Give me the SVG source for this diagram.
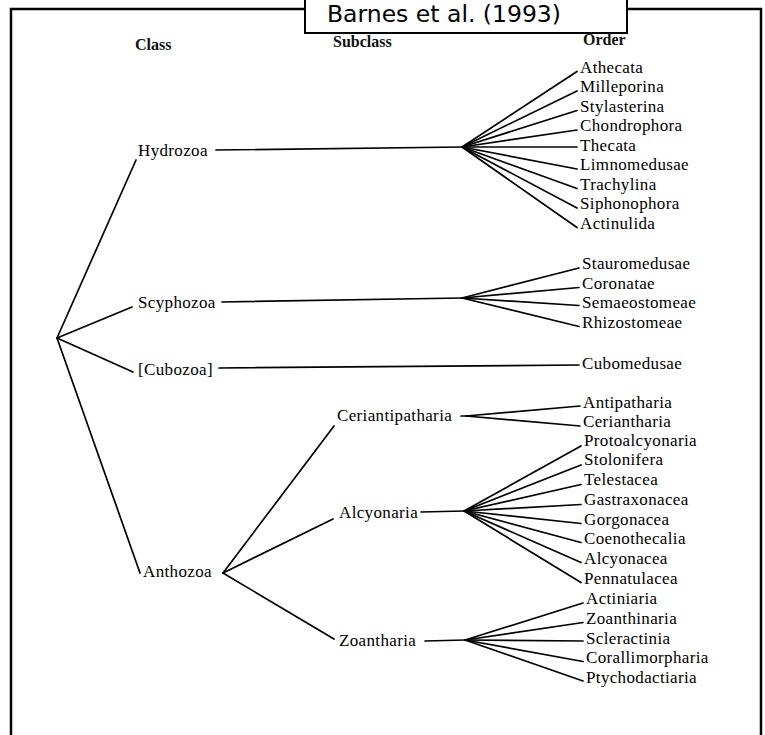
<svg xmlns="http://www.w3.org/2000/svg" width="765" height="735" viewBox="0 0 765 735">
<style>
.t{font-family:"Liberation Serif","Times New Roman",serif;font-size:17px;letter-spacing:0.35px;fill:#000}
.h{font-family:"Liberation Serif","Times New Roman",serif;font-size:16px;font-weight:bold;fill:#111}
.c line{stroke:#000;stroke-width:1.7;stroke-linecap:round}
</style>
<rect x="0" y="0" width="765" height="735" fill="#fff"/>
<rect id="frame" x="11" y="9" width="750" height="745" fill="none" stroke="#000" stroke-width="2.5"/>
<g id="title">
<rect x="305" y="-10" width="322" height="43" fill="#fff" stroke="#000" stroke-width="2"/>
<text x="327" y="22" style="font-family:'DejaVu Sans',Verdana,sans-serif;font-size:23.5px;fill:#000">Barnes et al. (1993)</text>
</g>
<g id="headers">
<text class="h" x="135" y="50">Class</text>
<text class="h" x="333" y="47">Subclass</text>
<text class="h" x="583" y="45">Order</text>
</g>
<g id="connectors" class="c">
<line x1="57" y1="338" x2="136" y2="160"/>
<line x1="57" y1="338" x2="132" y2="307"/>
<line x1="57" y1="338" x2="133" y2="372"/>
<line x1="57" y1="338" x2="140" y2="573"/>
<line x1="216" y1="150" x2="462" y2="147"/>
<line x1="462" y1="147" x2="577" y2="71.5"/>
<line x1="462" y1="147" x2="577" y2="91"/>
<line x1="462" y1="147" x2="577" y2="110.5"/>
<line x1="462" y1="147" x2="577" y2="130"/>
<line x1="462" y1="147" x2="577" y2="147"/>
<line x1="462" y1="147" x2="577" y2="169"/>
<line x1="462" y1="147" x2="577" y2="188.5"/>
<line x1="462" y1="147" x2="577" y2="208"/>
<line x1="462" y1="147" x2="577" y2="227.5"/>
<line x1="222" y1="302" x2="462" y2="298"/>
<line x1="462" y1="298" x2="579" y2="268"/>
<line x1="462" y1="298" x2="579" y2="287.5"/>
<line x1="462" y1="298" x2="579" y2="305.5"/>
<line x1="462" y1="298" x2="579" y2="326.5"/>
<line x1="219" y1="368" x2="579" y2="365"/>
<line x1="223" y1="573" x2="334" y2="426"/>
<line x1="223" y1="573" x2="333" y2="519"/>
<line x1="223" y1="573" x2="334" y2="639"/>
<line x1="461" y1="416" x2="466" y2="416"/>
<line x1="466" y1="416" x2="580" y2="406"/>
<line x1="466" y1="416" x2="580" y2="426"/>
<line x1="421" y1="512" x2="464" y2="511"/>
<line x1="464" y1="511" x2="581" y2="446"/>
<line x1="464" y1="511" x2="581" y2="465"/>
<line x1="464" y1="511" x2="581" y2="484.5"/>
<line x1="464" y1="511" x2="581" y2="504.5"/>
<line x1="464" y1="511" x2="581" y2="523.5"/>
<line x1="464" y1="511" x2="581" y2="542.5"/>
<line x1="464" y1="511" x2="581" y2="562.5"/>
<line x1="464" y1="511" x2="581" y2="582.5"/>
<line x1="425" y1="641" x2="465" y2="640"/>
<line x1="465" y1="640" x2="583" y2="603"/>
<line x1="465" y1="640" x2="583" y2="622.5"/>
<line x1="465" y1="640" x2="583" y2="641"/>
<line x1="465" y1="640" x2="583" y2="661.5"/>
<line x1="465" y1="640" x2="583" y2="681"/>
</g>
<g id="class-nodes">
<g id="hydrozoa"><text class="t" x="138" y="155.5">Hydrozoa</text></g>
<g id="scyphozoa"><text class="t" x="138" y="307.5">Scyphozoa</text></g>
<g id="cubozoa"><text class="t" x="138" y="375">[Cubozoa]</text></g>
<g id="anthozoa"><text class="t" x="143" y="577">Anthozoa</text></g>
</g>
<g id="subclass-nodes">
<g id="ceriantipatharia"><text class="t" x="337" y="420.5">Ceriantipatharia</text></g>
<g id="alcyonaria"><text class="t" x="339" y="517.5">Alcyonaria</text></g>
<g id="zoantharia"><text class="t" x="339" y="646">Zoantharia</text></g>
</g>
<g id="order-nodes">
<g id="athecata"><text class="t" x="580" y="72.5">Athecata</text></g>
<g id="milleporina"><text class="t" x="580" y="92">Milleporina</text></g>
<g id="stylasterina"><text class="t" x="580" y="111.5">Stylasterina</text></g>
<g id="chondrophora"><text class="t" x="580" y="131">Chondrophora</text></g>
<g id="thecata"><text class="t" x="580" y="150.5">Thecata</text></g>
<g id="limnomedusae"><text class="t" x="580" y="170">Limnomedusae</text></g>
<g id="trachylina"><text class="t" x="580" y="189.5">Trachylina</text></g>
<g id="siphonophora"><text class="t" x="580" y="209">Siphonophora</text></g>
<g id="actinulida"><text class="t" x="580" y="228.5">Actinulida</text></g>
<g id="stauromedusae"><text class="t" x="582" y="269">Stauromedusae</text></g>
<g id="coronatae"><text class="t" x="582" y="288.5">Coronatae</text></g>
<g id="semaeostomeae"><text class="t" x="582" y="308">Semaeostomeae</text></g>
<g id="rhizostomeae"><text class="t" x="582" y="327.5">Rhizostomeae</text></g>
<g id="cubomedusae"><text class="t" x="582" y="369">Cubomedusae</text></g>
<g id="antipatharia"><text class="t" x="583" y="407.5">Antipatharia</text></g>
<g id="ceriantharia"><text class="t" x="583" y="427">Ceriantharia</text></g>
<g id="protoalcyonaria"><text class="t" x="584" y="445.5">Protoalcyonaria</text></g>
<g id="stolonifera"><text class="t" x="584" y="465">Stolonifera</text></g>
<g id="telestacea"><text class="t" x="584" y="484.5">Telestacea</text></g>
<g id="gastraxonacea"><text class="t" x="584" y="504.5">Gastraxonacea</text></g>
<g id="gorgonacea"><text class="t" x="584" y="524.5">Gorgonacea</text></g>
<g id="coenothecalia"><text class="t" x="584" y="543.5">Coenothecalia</text></g>
<g id="alcyonacea"><text class="t" x="584" y="563.5">Alcyonacea</text></g>
<g id="pennatulacea"><text class="t" x="584" y="583.5">Pennatulacea</text></g>
<g id="actiniaria"><text class="t" x="586" y="603.5">Actiniaria</text></g>
<g id="zoanthinaria"><text class="t" x="586" y="623.5">Zoanthinaria</text></g>
<g id="scleractinia"><text class="t" x="586" y="643.5">Scleractinia</text></g>
<g id="corallimorpharia"><text class="t" x="586" y="662.5">Corallimorpharia</text></g>
<g id="ptychodactiaria"><text class="t" x="586" y="682.5">Ptychodactiaria</text></g>
</g>
</svg>
